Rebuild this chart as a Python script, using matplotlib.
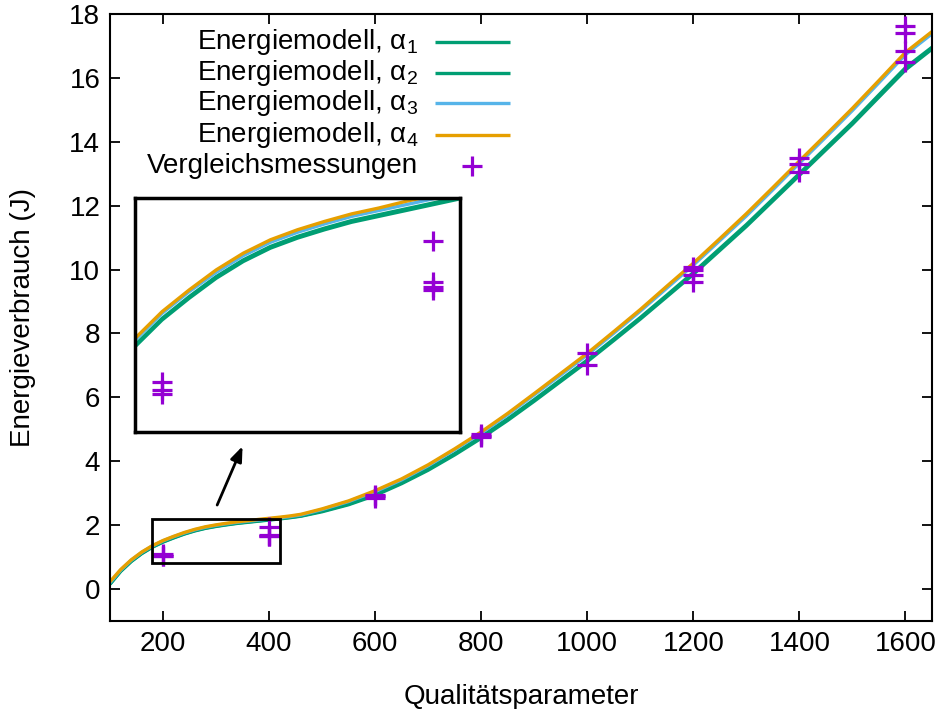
import matplotlib
matplotlib.use("Agg")
import matplotlib.pyplot as plt
from matplotlib.patches import Rectangle

plt.rcParams['font.family'] = ['Liberation Sans', 'DejaVu Sans']
plt.rcParams['mathtext.default'] = 'regular'

# ---- data ----
x_model = [100, 120, 140, 160, 180, 200, 220, 240, 260, 280, 300, 320, 340, 360, 380, 400, 420, 440, 460,
           500, 550, 600, 650, 700, 750, 800, 850, 900, 950, 1000, 1050, 1100, 1150, 1200, 1250,
           1300, 1350, 1400, 1450, 1500, 1550, 1600, 1650]
alpha1 = [0.15, 0.55, 0.86, 1.11, 1.31, 1.47, 1.60, 1.72, 1.82, 1.90, 1.96, 2.01, 2.055, 2.09, 2.125, 2.16, 2.195, 2.235, 2.28,
          2.42, 2.64, 2.93, 3.30, 3.72, 4.20, 4.72, 5.28, 5.88, 6.50, 7.12, 7.78, 8.45, 9.15, 9.85, 10.60,
          11.35, 12.15, 12.95, 13.75, 14.55, 15.40, 16.25, 16.90]
alpha2 = [0.16, 0.56, 0.87, 1.12, 1.32, 1.48, 1.61, 1.73, 1.83, 1.91, 1.97, 2.02, 2.065, 2.10, 2.135, 2.17, 2.205, 2.245, 2.29,
          2.44, 2.66, 2.96, 3.33, 3.76, 4.24, 4.77, 5.33, 5.93, 6.55, 7.17, 7.83, 8.50, 9.20, 9.91, 10.66,
          11.41, 12.21, 13.01, 13.81, 14.61, 15.47, 16.32, 16.96]
alpha3 = [0.20, 0.59, 0.90, 1.15, 1.35, 1.51, 1.64, 1.755, 1.855, 1.935, 1.995, 2.045, 2.09, 2.125, 2.16, 2.195, 2.23, 2.27, 2.32,
          2.49, 2.74, 3.05, 3.42, 3.86, 4.36, 4.88, 5.46, 6.08, 6.70, 7.33, 8.01, 8.70, 9.42, 10.14, 10.91,
          11.68, 12.50, 13.33, 14.15, 14.98, 15.85, 16.73, 17.38]
alpha4 = [0.23, 0.61, 0.915, 1.16, 1.36, 1.52, 1.65, 1.77, 1.87, 1.95, 2.01, 2.06, 2.105, 2.14, 2.18, 2.215, 2.25, 2.29, 2.34,
          2.51, 2.76, 3.08, 3.45, 3.89, 4.39, 4.92, 5.50, 6.12, 6.75, 7.38, 8.06, 8.75, 9.48, 10.20, 10.97,
          11.75, 12.57, 13.40, 14.22, 15.05, 15.92, 16.80, 17.45]

x_meas = [200, 200, 200, 400, 400, 400, 400, 600, 600, 600, 800, 800, 800, 1000, 1000,
          1200, 1200, 1200, 1200, 1400, 1400, 1400, 1600, 1600, 1600, 1600]
y_meas = [1.10, 1.05, 1.03, 1.94, 1.70, 1.67, 1.65, 2.95, 2.90, 2.85, 4.85, 4.80, 4.75, 7.40, 7.00,
          10.08, 10.00, 9.84, 9.61, 13.49, 13.31, 13.07, 17.62, 17.40, 16.85, 16.50]

labels = ['Energiemodell, α$_1$', 'Energiemodell, α$_2$', 'Energiemodell, α$_3$',
          'Energiemodell, α$_4$', 'Vergleichsmessungen']
xticks = [200, 400, 600, 800, 1000, 1200, 1400, 1600]
yticks = [0, 2, 4, 6, 8, 10, 12, 14, 16, 18]

c_green = '#009e73'
c_blue = '#56b4e9'
c_orange = '#e69f00'
c_purple = '#9400d3'

W, H = 938, 709
fig = plt.figure(figsize=(W / 100, H / 100), dpi=100)
ax = fig.add_axes([110 / W, 1 - 621 / H, 822 / W, 607 / H])

FS = 20
lw = 2.4
ms = 15
mew = 2.3


def draw(a):
    a.plot(x_model, alpha1, color=c_green, lw=lw, solid_capstyle='butt')
    a.plot(x_model, alpha2, color=c_green, lw=lw, solid_capstyle='butt')
    a.plot(x_model, alpha3, color=c_blue, lw=lw, solid_capstyle='butt')
    a.plot(x_model, alpha4, color=c_orange, lw=lw, solid_capstyle='butt')
    a.plot(x_meas, y_meas, ls='none', marker='+', ms=ms, mew=mew, color=c_purple)


draw(ax)
ax.set_xlim(100, 1650)
ax.set_ylim(-1, 18)
ax.set_xticks(xticks)
ax.set_yticks(yticks)
ax.tick_params(direction='in', length=7.5, width=1.3, top=True, right=True,
               labelsize=FS, pad=7)
for s in ax.spines.values():
    s.set_linewidth(1.5)
ax.set_xlabel('Qualitätsparameter', fontsize=FS, labelpad=20)
ax.set_ylabel('Energieverbrauch (J)', fontsize=FS, labelpad=24)

# zoom rectangle and arrow
ax.add_patch(Rectangle((180, 0.8), 240, 1.4, fill=False, ec='black', lw=2.0, zorder=5))
ax.annotate('', xy=(352, 4.55), xytext=(300, 2.55),
            arrowprops=dict(arrowstyle='-|>,head_length=0.9,head_width=0.35', color='black', lw=2.0))

# manual legend (right-aligned text, sample to the right)
rows_y = [0.9539, 0.9028, 0.8534, 0.8007, 0.7496]
cols = [c_green, c_green, c_blue, c_orange]
for i, lab in enumerate(labels):
    ax.text(0.3747, rows_y[i], lab, transform=ax.transAxes, ha='right', va='center', fontsize=FS)
    if i < 4:
        ax.plot([0.3954, 0.4866], [rows_y[i], rows_y[i]], transform=ax.transAxes,
                color=cols[i], lw=lw, solid_capstyle='butt', clip_on=False)
    else:
        ax.plot([0.4404], [rows_y[i]], transform=ax.transAxes, ls='none', marker='+',
                ms=ms, mew=mew, color=c_purple, clip_on=False)

# inset
axi = fig.add_axes([135 / W, 1 - 432 / H, 325 / W, 234 / H])
axi.set_facecolor('white')
draw(axi)
axi.set_xlim(180, 420)
axi.set_ylim(0.8, 2.2)
axi.set_xticks([])
axi.set_yticks([])
for s in axi.spines.values():
    s.set_linewidth(2.5)

fig.savefig('out.png', dpi=100)
